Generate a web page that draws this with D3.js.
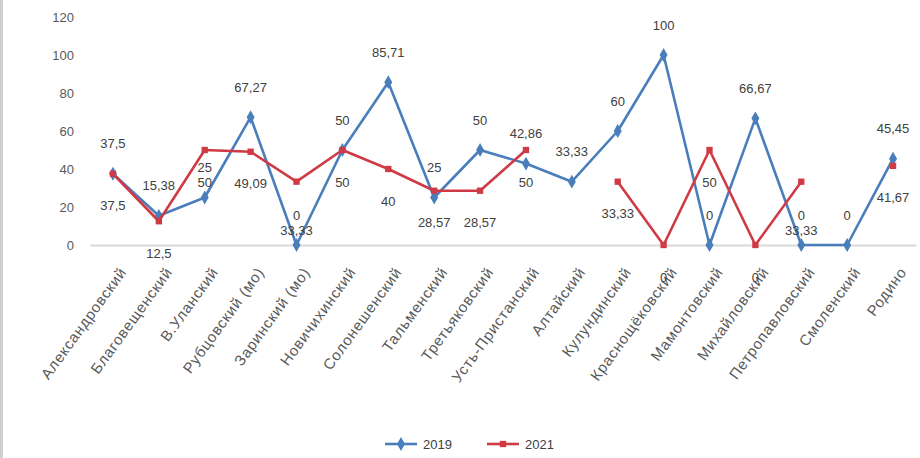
<!DOCTYPE html>
<html>
<head>
<meta charset="utf-8">
<script src="https://cdn.jsdelivr.net/npm/d3@7"></script>
<style>
  body { margin: 0; background: #fff; }
  svg { display: block; font-family: "Liberation Sans", Arial, sans-serif; }
</style>
</head>
<body>
<script>
// districts along the x axis
var districts = ["Александровский", "Благовещенский", "В.Уланский", "Рубцовский (мо)",
    "Заринский (мо)", "Новичихинский", "Солонешенский", "Тальменский", "Третьяковский",
    "Усть-Пристанский", "Алтайский", "Кулундинский", "Краснощёковский", "Мамонтовский",
    "Михайловский", "Петропавловский", "Смоленский", "Родино"];

// values per year, null = no data
var v2019 = [37.5, 15.38, 25, 67.27, 0, 50, 85.71, 25, 50, 42.86, 33.33, 60, 100, 0, 66.67, 0, 0, 45.45];
var v2021 = [37.5, 12.5, 50, 49.09, 33.33, 50, 40, 28.57, 28.57, 50, null, 33.33, 0, 50, 0, 33.33, null, 41.67];

var years = ["2019", "2021"];
var yTicks = [0, 20, 40, 60, 80, 100, 120];

var W = 920, H = 458;
var margin = {top: 17, right: 4, bottom: 213, left: 90},
    width = W - margin.left - margin.right,
    height = H - margin.top - margin.bottom;

var color = d3.scaleOrdinal().domain(years).range(["#4A7EBB", "#CF3A45"]);

var svg = d3.select("body").append("svg")
    .attr("width", W)
    .attr("height", H);

// chart border on the left
svg.append("line")
    .attr("x1", 1.5).attr("x2", 1.5).attr("y1", 0).attr("y2", H)
    .style("stroke", "#d0d0d0").style("stroke-width", 3);

var g = svg.append("g")
    .attr("transform", "translate(" + margin.left + "," + margin.top + ")");

var x = d3.scaleBand().domain(districts).range([0, width]);
var y = d3.scaleLinear().domain([0, 120]).range([height, 0]);

function cx(d, i) { return x(districts[i]) + x.bandwidth() / 2; }

// y axis labels only
var yAxis = g.append("g")
    .call(d3.axisLeft(y).tickValues(yTicks).tickSize(0).tickPadding(16));
yAxis.select(".domain").remove();
yAxis.selectAll("text").style("font-size", "13px").style("fill", "#595959");

// x axis
var xAxis = g.append("g")
    .attr("transform", "translate(0," + height + ")")
    .call(d3.axisBottom(x).tickSize(0).tickPadding(0));
xAxis.select(".domain").style("stroke", "#d9d9d9").style("stroke-width", 2);
xAxis.selectAll("text")
    .style("font-size", "15px")
    .style("letter-spacing", "0.8px")
    .style("fill", "#595959")
    .style("text-anchor", "end")
    .attr("y", 0)
    .attr("dy", "0.35em")
    .attr("transform", "translate(10,24) rotate(-54)");

var series = [
  {name: "2019", values: v2019, shape: d3.symbolDiamond, labelDy: -30},
  {name: "2021", values: v2021, shape: d3.symbolSquare, labelDy: 32}
];

var line = d3.line()
    .defined(function(d) { return d != null; })
    .x(cx)
    .y(function(d) { return y(d); });

var fmt = function(v) { return String(v).replace(".", ","); };

series.forEach(function(s) {
    g.append("path")
        .datum(s.values)
        .attr("fill", "none")
        .attr("stroke", color(s.name))
        .attr("stroke-width", 2.6)
        .attr("stroke-linejoin", "round")
        .attr("d", line);

    g.selectAll(".m" + s.name)
        .data(s.values.map(function(v, i) { return {v: v, i: i}; }).filter(function(d) { return d.v != null; }))
        .enter().append("path")
        .attr("transform", function(d) { return "translate(" + cx(null, d.i) + "," + y(d.v) + ")"; })
        .attr("d", d3.symbol().type(s.shape).size(s.shape === d3.symbolSquare ? 40 : 55))
        .attr("fill", color(s.name));
});

// data labels: 2019 above the point, 2021 below; push 2021 down when they collide
districts.forEach(function(c, i) {
    var yb = v2019[i] != null ? y(v2019[i]) + series[0].labelDy : null;
    var yr = v2021[i] != null ? y(v2021[i]) + series[1].labelDy : null;
    if (yb != null && yr != null && Math.abs(yr - yb) < 15) yr = yb + 15;
    [[v2019[i], yb], [v2021[i], yr]].forEach(function(p) {
        if (p[0] == null) return;
        g.append("text")
            .attr("x", cx(null, i))
            .attr("y", p[1])
            .attr("dy", "0.35em")
            .attr("text-anchor", "middle")
            .style("font-size", "13px")
            .style("fill", "#404040")
            .text(fmt(p[0]));
    });
});

// legend
var legend = svg.append("g").attr("transform", "translate(385,444)");
series.forEach(function(s, k) {
    var lg = legend.append("g").attr("transform", "translate(" + (k * 102) + ",0)");
    lg.append("line")
        .attr("x1", 0).attr("x2", 32)
        .attr("stroke", color(s.name)).attr("stroke-width", 2.6);
    lg.append("path")
        .attr("transform", "translate(16,0)")
        .attr("d", d3.symbol().type(s.shape).size(s.shape === d3.symbolSquare ? 40 : 55))
        .attr("fill", color(s.name));
    lg.append("text")
        .attr("x", 38).attr("dy", "0.35em")
        .style("font-size", "13px").style("fill", "#404040")
        .text(s.name);
});
</script>
</body>
</html>
